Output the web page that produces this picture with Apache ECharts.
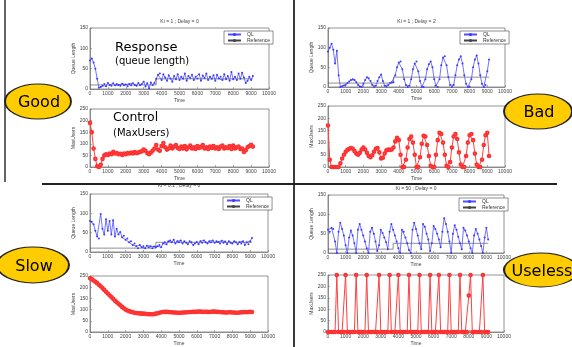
<!DOCTYPE html>
<html>
<head>
<meta charset="utf-8">
<script src="https://cdn.jsdelivr.net/npm/echarts@6/dist/echarts.min.js"></script>
<style>
  html, body { margin: 0; padding: 0; background: #fff; }
  #chart { width: 572px; height: 347px; }
</style>
</head>
<body>
<div id="chart"></div>
<script>
// sample times shared by every run
const times = [
  0, 100, 200, 300, 400, 500, 600, 700, 800, 900,
  1000, 1100, 1200, 1300, 1400, 1500, 1600, 1700, 1800, 1900,
  2000, 2100, 2200, 2300, 2400, 2500, 2600, 2700, 2800, 2900,
  3000, 3100, 3200, 3300, 3400, 3500, 3600, 3700, 3800, 3900,
  4000, 4100, 4200, 4300, 4400, 4500, 4600, 4700, 4800, 4900,
  5000, 5100, 5200, 5300, 5400, 5500, 5600, 5700, 5800, 5900,
  6000, 6100, 6200, 6300, 6400, 6500, 6600, 6700, 6800, 6900,
  7000, 7100, 7200, 7300, 7400, 7500, 7600, 7700, 7800, 7900,
  8000, 8100, 8200, 8300, 8400, 8500, 8600, 8700, 8800, 8900,
  9000, 9100
];

// reference queue length (step)
const refTimes = [0, 3700, 3700, 9100];
const refValues = [10, 10, 25, 25];

// Ki = 1, Delay = 0  (Good)
const goodQueue = [
  70, 75, 65, 50, 25, 3, 5, 8, 12, 7,
  15, 10, 8, 14, 9, 12, 10, 8, 13, 9,
  11, 7, 12, 9, 14, 10, 8, 15, 9, 12,
  18, 6, 14, 2, 16, 10, 15, 25, 35, 38,
  22, 36, 28, 20, 34, 26, 18, 32, 24, 36,
  22, 30, 25, 38, 20, 32, 27, 35, 22, 30,
  26, 36, 20, 33, 27, 38, 22, 30, 25, 34,
  20, 35, 26, 30, 22, 36, 24, 32, 20, 42,
  24, 30, 22, 38, 25, 40, 28, 15, 20, 30,
  22, 32
];
const goodUsers = [
  190, 150, 80, 35, 3, 0, 10, 35, 50, 55,
  52, 58, 55, 65, 58, 60, 55, 57, 52, 58,
  55, 60, 58, 62, 58, 64, 60, 62, 65, 68,
  75, 70, 60, 55, 62, 70, 80, 95, 75, 70,
  90, 103, 85, 75, 80, 92, 80, 88, 95, 82,
  78, 88, 80, 90, 76, 85, 92, 80, 85, 78,
  90, 82, 86, 95, 80, 85, 78, 88, 82, 90,
  80, 85, 78, 88, 92, 80, 85, 82, 90, 78,
  92, 80, 85, 88, 78, 80, 65, 72, 85, 90,
  96, 88
];

// Ki = 1, Delay = 2  (Bad)
const badQueue = [
  90, 100, 110, 95, 60, 92, 30, 0, 2, 4,
  6, 10, 14, 18, 20, 18, 12, 5, 1, 0,
  8, 18, 25, 22, 15, 5, 0, 3, 15, 25,
  32, 15, 3, 1, 5, 10, 12, 12, 30, 50,
  62, 65, 45, 20, 5, 0, 3, 20, 45, 60,
  65, 40, 15, 0, 0, 20, 45, 58, 65, 50,
  20, 3, 0, 20, 55, 75, 78, 55, 25, 5,
  0, 5, 30, 55, 70, 78, 60, 30, 8, 0,
  0, 20, 50, 70, 80, 60, 30, 8, 0, 5,
  40, 70
];
const badUsers = [
  170, 30, 0, 0, 0, 0, 0, 15, 35, 50,
  62, 70, 75, 78, 75, 65, 55, 50, 58, 72,
  80, 72, 58, 45, 40, 48, 62, 75, 78, 60,
  35, 38, 55, 68, 72, 70, 72, 80, 105, 120,
  110, 50, 0, 0, 30, 80, 115, 125, 100, 50,
  0, 0, 40, 95, 128, 125, 90, 45, 5, 0,
  0, 50, 110, 140, 135, 100, 50, 5, 0, 20,
  80, 125, 135, 115, 60, 10, 0, 0, 45, 100,
  130, 135, 110, 55, 10, 0, 0, 30, 90, 130,
  140, 45
];

// Ki = 0.1, Delay = 0  (Slow)
const slowQueue = [
  80, 78, 72, 55, 40, 35, 98, 60, 45, 85,
  55, 80, 45, 82, 40, 60, 45, 52, 38, 42,
  32, 35, 25, 28, 18, 22, 15, 10, 18, 12,
  15, 10, 16, 12, 15, 10, 14, 12, 15, 18,
  12, 22, 25, 20, 28, 30, 25, 32, 22, 28,
  25, 30, 22, 28, 24, 20, 28, 25, 18, 22,
  26, 20, 28, 24, 30, 25, 22, 28, 25, 30,
  24, 28, 26, 22, 29, 24, 27, 20, 28, 24,
  22, 28, 25, 20, 26, 22, 28, 18, 25, 20,
  28, 36
];
const slowUsers = [
  240, 236, 230, 224, 218, 211, 204, 196, 188, 180,
  172, 164, 156, 148, 140, 133, 126, 119, 112, 106,
  100, 96, 93, 90, 88, 86, 85, 84, 83, 82,
  82, 81, 80, 80, 79, 79, 80, 82, 84, 86,
  88, 89, 90, 90, 89, 88, 88, 87, 87, 86,
  86, 86, 87, 87, 88, 88, 89, 89, 90, 90,
  90, 91, 91, 90, 90, 90, 90, 89, 90, 91,
  91, 90, 90, 89, 88, 88, 87, 87, 88, 88,
  87, 87, 86, 86, 87, 88, 88, 89, 88, 89,
  90, 89
];

// Ki = 50, Delay = 0  (Useless)
const uselessQueue = [
  60, 55, 65, 62, 30, 0, 55, 78, 62, 45,
  20, 0, 40, 58, 45, 25, 0, 60, 75, 60,
  45, 30, 12, 0, 55, 65, 50, 30, 5, 20,
  60, 52, 40, 28, 10, 55, 75, 60, 45, 30,
  12, 0, 60, 55, 40, 25, 8, 0, 60, 78,
  62, 45, 25, 10, 75, 68, 50, 35, 5, 25,
  70, 62, 50, 35, 15, 55, 90, 75, 55, 30,
  0, 50, 72, 60, 42, 25, 10, 65, 58, 45,
  30, 12, 0, 45, 62, 50, 35, 18, 0, 40,
  65, 35
];
const uselessUsers = [
  0, 0, 0, 0, 0, 250, 0, 0, 0, 0,
  250, 0, 0, 0, 0, 0, 250, 0, 0, 0,
  0, 0, 250, 0, 0, 0, 0, 0, 0, 250,
  0, 0, 0, 0, 0, 250, 0, 0, 0, 0,
  250, 0, 0, 0, 0, 0, 250, 0, 0, 0,
  0, 0, 250, 0, 0, 0, 0, 0, 250, 0,
  0, 0, 0, 250, 0, 0, 0, 0, 0, 250,
  0, 0, 0, 0, 0, 250, 0, 0, 0, 0,
  160, 250, 0, 0, 0, 0, 0, 0, 250, 0,
  0, 0
];

const titles = ['Ki = 1 ; Delay = 0', 'Ki = 1 ; Delay = 2', 'Ki = 0.1 ; Delay = 0', 'Ki = 50 ; Delay = 0'];
const queueRuns = [goodQueue, badQueue, slowQueue, uselessQueue];
const userRuns = [goodUsers, badUsers, slowUsers, uselessUsers];

// plot boxes [left, top, width, height]: queue plot then users plot per quadrant
const queueBoxes = [[90, 28, 179, 61], [328, 28, 177, 59], [90, 194, 178, 58], [328, 195, 176, 58]];
const userBoxes = [[90, 109, 179, 58], [328, 106, 177, 61], [90, 276, 178, 59], [328, 275, 176, 60]];
const titleTops = [22, 22, 186, 188.5];

const axisFont = 'Liberation Sans';
const axisGray = '#7a7a7a';

function pairs(xs, ys) {
  return xs.map((x, i) => [x, ys[i]]);
}

function makeGrid(box) {
  return {
    left: box[0], top: box[1], width: box[2], height: box[3],
    show: true, borderColor: axisGray, borderWidth: 0.8, backgroundColor: '#fff',
  };
}

function makeX(i) {
  return {
    gridIndex: i, type: 'value', min: 0, max: 10000, interval: 1000,
    name: 'Time', nameLocation: 'middle', nameGap: 9,
    nameTextStyle: { fontSize: 5, color: '#444', fontFamily: axisFont },
    axisLine: { lineStyle: { color: axisGray, width: 0.8 } },
    axisTick: { inside: true, length: 2, lineStyle: { color: axisGray, width: 0.6 } },
    axisLabel: { fontSize: 5, color: '#444', margin: 2, fontFamily: axisFont, formatter: v => String(v) },
    splitLine: { show: false },
  };
}

function makeY(i, name, max) {
  return {
    gridIndex: i, type: 'value', min: 0, max, interval: 50,
    name, nameLocation: 'middle', nameGap: 11,
    nameTextStyle: { fontSize: 5, color: '#444', fontFamily: axisFont },
    axisLine: { lineStyle: { color: axisGray, width: 0.8 } },
    axisTick: { inside: true, length: 2, lineStyle: { color: axisGray, width: 0.6 } },
    axisLabel: { fontSize: 5, color: '#444', margin: 2, fontFamily: axisFont },
    splitLine: { show: false },
  };
}

const grid = [];
const xAxis = [];
const yAxis = [];
const series = [];
const legend = [];
const graphic = [];

for (let q = 0; q < 4; q += 1) {
  const qi = q * 2;
  const ui = q * 2 + 1;
  grid.push(makeGrid(queueBoxes[q]), makeGrid(userBoxes[q]));
  xAxis.push(makeX(qi), makeX(ui));
  yAxis.push(makeY(qi, 'Queue Length', 150), makeY(ui, 'MaxUsers', 250));

  series.push({
    type: 'line', name: 'QL', xAxisIndex: qi, yAxisIndex: qi,
    data: pairs(times, queueRuns[q]),
    symbol: 'circle', symbolSize: 2, showAllSymbol: true,
    lineStyle: { color: '#4f4fff', width: 0.8 },
    itemStyle: { color: '#3a3aff' },
    z: 3,
  });
  series.push({
    type: 'line', name: 'Reference', xAxisIndex: qi, yAxisIndex: qi,
    data: pairs(refTimes, refValues),
    symbol: 'none',
    lineStyle: { color: '#444', width: 0.6 },
    itemStyle: { color: '#444' },
    z: 2,
  });
  series.push({
    type: 'line', name: 'MaxUsers', xAxisIndex: ui, yAxisIndex: ui,
    data: pairs(times, userRuns[q]),
    symbol: 'emptyCircle', symbolSize: 2.6, showAllSymbol: true,
    lineStyle: { color: '#ff4040', width: 1 },
    itemStyle: { color: '#ff3030', borderWidth: 0.6 },
  });

  const box = queueBoxes[q];
  legend.push({
    data: ['QL', 'Reference'],
    orient: 'vertical',
    left: box[0] + box[2] - 45, top: box[1] + 3,
    itemWidth: 13, itemHeight: 4, itemGap: 1,
    padding: [1, 3, 1, 3],
    borderColor: '#444', borderWidth: 0.6, backgroundColor: '#fff',
    textStyle: { fontSize: 5, color: '#333', fontFamily: axisFont, padding: [0, 0, 0, 1] },
    selectedMode: false,
  });

  graphic.push({
    type: 'text', x: box[0] + box[2] / 2, y: titleTops[q],
    style: { text: titles[q], fill: '#444', font: '5px "Liberation Sans"', textAlign: 'center', textVerticalAlign: 'middle' },
  });
}

// slide dividers
graphic.push(
  { type: 'line', shape: { x1: 294, y1: 0, x2: 294, y2: 347 }, style: { stroke: '#3a3a3a', lineWidth: 2 }, z: 50 },
  { type: 'line', shape: { x1: 42, y1: 184, x2: 557, y2: 184 }, style: { stroke: '#222', lineWidth: 2 }, z: 50 },
  { type: 'line', shape: { x1: 5, y1: 0, x2: 5, y2: 182 }, style: { stroke: '#333', lineWidth: 1.5 }, z: 50 }
);

// annotations inside the Good plots
const noteFont = '"DejaVu Sans"';
graphic.push(
  { type: 'text', x: 115, y: 47.5, z: 60, style: { text: 'Response', fill: '#000', font: `13px ${noteFont}`, textVerticalAlign: 'middle' } },
  { type: 'text', x: 115, y: 61, z: 60, style: { text: '(queue length)', fill: '#000', font: `10px ${noteFont}`, textVerticalAlign: 'middle' } },
  { type: 'text', x: 113, y: 118, z: 60, style: { text: 'Control', fill: '#000', font: `12.5px ${noteFont}`, textVerticalAlign: 'middle' } },
  { type: 'text', x: 113, y: 133, z: 60, style: { text: '(MaxUsers)', fill: '#000', font: `10px ${noteFont}`, textVerticalAlign: 'middle' } }
);

// yellow verdict badges: [label, cx, cy, rx, ry]
const badges = [
  ['Good', 38, 101.5, 33, 17.5],
  ['Bad', 538, 111.5, 34, 17.5],
  ['Slow', 33, 265, 36, 18],
  ['Useless', 541, 270, 37, 17],
];
badges.forEach(([label, cx, cy, rx, ry]) => {
  graphic.push({
    type: 'circle', x: cx, y: cy, scaleX: rx / ry, z: 70,
    shape: { cx: 0, cy: 0, r: ry },
    style: { fill: '#ffcc00', stroke: '#222', lineWidth: 1, strokeNoScale: true },
  });
  graphic.push({
    type: 'text', x: cx + 1, y: cy + 1.5, z: 71,
    style: { text: label, fill: '#000', font: `16px ${noteFont}`, textAlign: 'center', textVerticalAlign: 'middle' },
  });
});

const chart = echarts.init(document.getElementById('chart'));
chart.setOption({
  animation: false,
  backgroundColor: '#fff',
  grid,
  xAxis,
  yAxis,
  legend,
  series,
  graphic,
});
</script>
</body>
</html>
